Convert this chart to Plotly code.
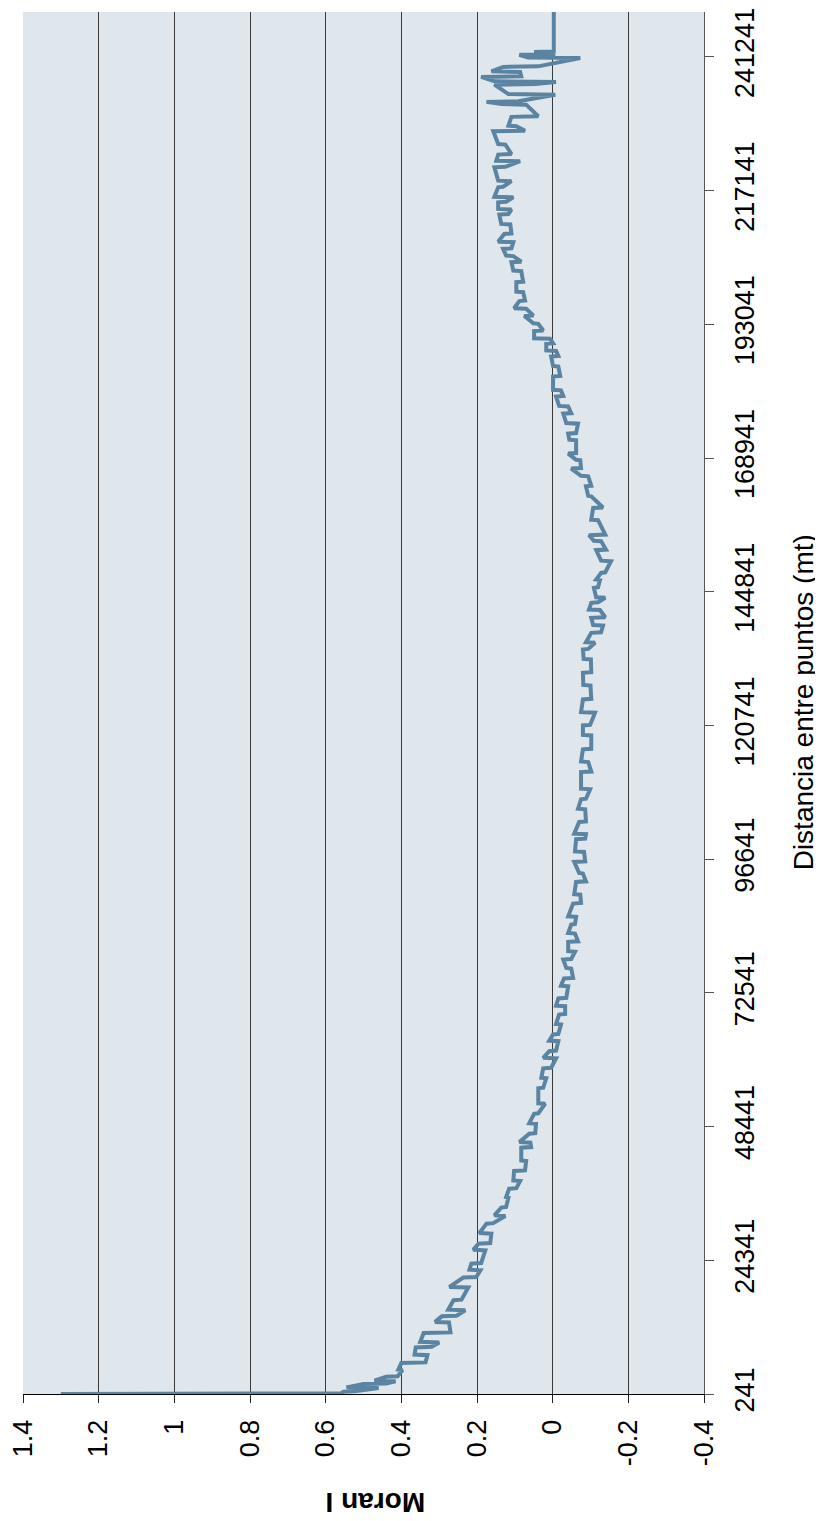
import plotly.graph_objects as go

# Distance between points (m) and Moran I values
distancia = [
    241, 341,
    641, 741, 1341, 1441, 2041, 2141, 2541, 2641, 3341, 3441, 4541, 4641,
    5841, 5941, 7241, 7341, 8641, 8741, 9541, 9641, 11241, 11341,
    13141, 13241, 14241, 14341, 15341, 15441, 17141, 17241, 19441, 19541,
    21241, 21341, 22541, 22641, 23741, 23841, 26141, 26241, 27341, 27441,
    29141, 29241, 30941, 31041, 32341, 32441, 33841, 33941, 35641, 35741,
    37241, 37341, 38641, 38741, 40441, 40541, 42241, 42341, 44641, 44741,
    45541, 45641, 47141, 47241, 48941, 49041, 50741, 50841, 52541, 52641,
    55341, 55441, 57141, 57241, 58941, 59041, 60741, 60841, 62041, 62141,
    63841, 63941, 65041, 65141, 66841, 66941, 68641, 68741, 70141, 70241,
    71541, 71641, 73741, 73841, 75141, 75241, 76941, 77041, 78541, 78641,
    79941, 80041, 81741, 81841, 83241, 83341, 84841, 84941, 86241, 86341,
    88641, 88741, 90241, 90341, 92541, 92641, 94041, 94141, 96141, 96241,
    97941, 98041, 100241, 100341, 101141, 101241, 103341, 103441, 105641, 105741,
    107441, 107541, 109241, 109341, 112341, 112441, 114141, 114241, 116441, 116541,
    118941, 119041, 120741, 120841, 123041, 123141, 125441, 125541, 127941, 128041,
    130241, 130341, 132641, 132741, 134441, 134541, 135641, 135741, 137441, 137541,
    138741, 138841, 140141, 140241, 141541, 141641, 142841, 142941, 143741, 143841,
    145541, 145641, 146941, 147041, 148241, 148341, 150341, 150441, 152341, 152441,
    153941, 154041, 155041, 155141, 157741, 157841, 159941, 160041, 162041, 162141,
    163841, 163941, 165641, 165741, 167041, 167141, 168541, 168641, 169741, 169841,
    172141, 172241, 173341, 173441, 175141, 175241, 176941, 177041, 178241, 178341,
    180041, 180141, 181141, 181241, 183641, 183741, 185441, 185541, 187241, 187341,
    188241, 188341, 189541, 189641, 190441, 190541, 191841, 191941, 193141, 193241,
    194541, 194641, 195841, 195941, 197241, 197341, 198841, 198941, 200641, 200741,
    202641, 202741, 204241, 204341, 205341, 205441, 206641, 206741, 207841, 207941,
    209341, 209441, 211041, 211141, 212841, 212941, 213741, 213841, 215041, 215141,
    215941, 216041, 217741, 217841, 218841, 218941, 221341, 221441, 222441, 222541,
    223641, 223741, 225441, 225541, 227841, 227941, 228741, 228841, 230441, 230541,
    232641, 232741, 233141, 233241, 234441, 234541, 236241, 236341, 236741, 236841,
    237641, 237741, 238541, 238641, 239441, 239541, 241041, 241141, 241641, 241741,
    242141, 242241, 244241, 246741, 249341,
]

moran_i = [
    1.300, 0.560,
    0.553, 0.523, 0.460, 0.545, 0.500, 0.440, 0.415, 0.471, 0.440, 0.410, 0.397, 0.408,
    0.400, 0.336, 0.331, 0.365, 0.362, 0.320, 0.300, 0.350, 0.341, 0.270,
    0.274, 0.311, 0.293, 0.254, 0.231, 0.276, 0.262, 0.241, 0.223, 0.273,
    0.236, 0.202, 0.191, 0.220, 0.215, 0.189, 0.178, 0.210, 0.196, 0.165,
    0.162, 0.194, 0.175, 0.157, 0.125, 0.154, 0.136, 0.123, 0.117, 0.123,
    0.115, 0.096, 0.086, 0.104, 0.102, 0.073, 0.070, 0.083, 0.083, 0.057,
    0.059, 0.088, 0.062, 0.046, 0.044, 0.062, 0.049, 0.038, 0.020, 0.038,
    0.038, 0.025, 0.017, 0.030, 0.025, 0.004, -0.009, 0.025, 0.009, -0.009,
    -0.015, 0.009, -0.001, -0.015, -0.022, -0.009, -0.017, -0.033, -0.033, -0.009,
    -0.015, -0.036, -0.041, -0.022, -0.030, -0.054, -0.049, -0.036, -0.028, -0.049,
    -0.059, -0.041, -0.041, -0.067, -0.059, -0.041, -0.049, -0.059, -0.062, -0.041,
    -0.054, -0.075, -0.073, -0.057, -0.062, -0.088, -0.080, -0.070, -0.057, -0.086,
    -0.083, -0.059, -0.062, -0.086, -0.088, -0.057, -0.070, -0.088, -0.086, -0.067,
    -0.075, -0.088, -0.099, -0.075, -0.075, -0.102, -0.094, -0.075, -0.080, -0.102,
    -0.102, -0.080, -0.080, -0.099, -0.112, -0.075, -0.080, -0.102, -0.100, -0.081,
    -0.080, -0.102, -0.101, -0.082, -0.080, -0.094, -0.112, -0.088, -0.102, -0.128,
    -0.133, -0.107, -0.102, -0.139, -0.125, -0.096, -0.102, -0.120, -0.139, -0.115,
    -0.109, -0.120, -0.125, -0.115, -0.128, -0.139, -0.154, -0.128, -0.115, -0.141,
    -0.128, -0.109, -0.096, -0.139, -0.120, -0.102, -0.107, -0.133, -0.102, -0.094,
    -0.088, -0.102, -0.094, -0.075, -0.049, -0.075, -0.073, -0.062, -0.041, -0.062,
    -0.062, -0.044, -0.041, -0.062, -0.067, -0.036, -0.028, -0.049, -0.041, -0.017,
    -0.009, -0.028, -0.022, -0.001, -0.001, -0.020, -0.015, -0.001, 0.004, -0.015,
    -0.009, 0.017, 0.017, -0.001, 0.007, 0.049, 0.049, 0.025, 0.038, 0.051,
    0.075, 0.051, 0.070, 0.102, 0.088, 0.073, 0.078, 0.096, 0.096, 0.078,
    0.083, 0.104, 0.109, 0.083, 0.104, 0.123, 0.131, 0.109, 0.104, 0.144,
    0.128, 0.109, 0.112, 0.136, 0.141, 0.117, 0.109, 0.144, 0.144, 0.123,
    0.104, 0.154, 0.144, 0.131, 0.109, 0.144, 0.154, 0.125, 0.086, 0.149,
    0.144, 0.109, 0.125, 0.144, 0.157, 0.073, 0.096, 0.117, 0.109, 0.038,
    0.070, 0.136, 0.175, 0.091, -0.007, 0.117, 0.154, 0.046, -0.009, 0.154,
    0.189, 0.083, 0.086, 0.162, 0.131, 0.038, -0.073, 0.065, 0.088, -0.007,
    0.049, -0.003, -0.003, -0.003, -0.003,
]

moran_ticks = [1.4, 1.2, 1.0, 0.8, 0.6, 0.4, 0.2, 0.0, -0.2, -0.4]
moran_labels = ["1.4", "1.2", "1", "0.8", "0.6", "0.4", "0.2", "0", "-0.2", "-0.4"]
dist_ticks = [241, 24341, 48441, 72541, 96641, 120741, 144841, 168941, 193041, 217141, 241241]
dist_labels = [str(v) for v in dist_ticks]

FONT = "Liberation Sans, Arial, Helvetica, sans-serif"

fig = go.Figure()
fig.add_trace(go.Scatter(
    x=moran_i, y=distancia, mode="lines",
    line=dict(color="#5b84a2", width=4),
    showlegend=False, hoverinfo="skip",
))

# the page body has an 8px margin, so the figure is sized/offset to compensate
fig.update_layout(
    width=815, height=1513,
    margin=dict(l=14, r=118.5, t=0, b=127, pad=0),
    paper_bgcolor="white",
    plot_bgcolor="#dfe6ec",
    font=dict(family=FONT, color="black"),
    xaxis=dict(
        range=[1.4, -0.4], tickmode="array", tickvals=moran_ticks, ticktext=moran_labels,
        tickangle=-90, ticks="outside", ticklen=8, tickcolor="#222", tickwidth=1,
        showline=True, linecolor="#000", linewidth=1,
        showgrid=True, gridcolor="#3a3a3a", gridwidth=1, zeroline=False,
        layer="below traces", tickfont=dict(size=27, family=FONT, color="black"),
        ticklabelstandoff=6, ticklabeloverflow="allow",
    ),
    yaxis=dict(
        side="right", range=[241, 249341], tickmode="array", tickvals=dist_ticks, ticktext=dist_labels,
        tickangle=-90, ticks="outside", ticklen=9, tickcolor="#555", tickwidth=1,
        showline=True, linecolor="#555", linewidth=1,
        showgrid=False, zeroline=False, layer="below traces",
        tickfont=dict(size=27, family=FONT, color="black"),
        ticklabelstandoff=8, ticklabeloverflow="allow",
    ),
    annotations=[
        dict(text="<b>Moran I</b>", xref="paper", yref="paper", x=0.517, y=-0.0786,
             xanchor="center", yanchor="middle", textangle=180, showarrow=False,
             font=dict(size=28, family=FONT, color="black")),
        dict(text="Distancia entre puntos (mt)", xref="paper", yref="paper", x=1.1458, y=0.5007,
             xanchor="center", yanchor="middle", textangle=-90, showarrow=False,
             font=dict(size=28, family=FONT, color="black")),
    ],
)

fig.write_html("out.html")
